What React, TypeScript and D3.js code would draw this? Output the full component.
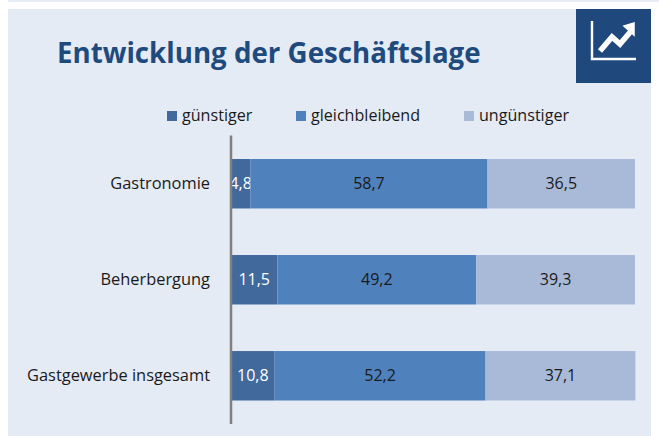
import React from "react";
import * as d3 from "d3";

const categories = ["Gastronomie", "Beherbergung", "Gastgewerbe insgesamt"];
const seriesNames = ["günstiger", "gleichbleibend", "ungünstiger"];
const guenstiger = [4.8, 11.5, 10.8];
const gleichbleibend = [58.7, 49.2, 52.2];
const unguenstiger = [36.5, 39.3, 37.1];
const colors = ["#41699c", "#4f81bd", "#a9bad9"];
const textColors = ["#ffffff", "#1a1a1a", "#1a1a1a"];
const legendSwatchX = [167, 296, 464];
const titleText = "Entwicklung der Geschäftslage";

const W = 659, H = 436;
const font = "'Open Sans', sans-serif";
const fmt = (v: number) => v.toFixed(1).replace(".", ",");

export default function App() {
  const x = d3.scaleLinear().domain([0, 100]).range([231, 635]);
  const y = d3.scaleBand().domain(categories).range([135, 424.5]).paddingInner(0.485).paddingOuter(0.25);
  const rows = categories.map((c, i) => ({ c, 0: guenstiger[i], 1: gleichbleibend[i], 2: unguenstiger[i] }));
  const stack = d3.stack<any>().keys([0, 1, 2] as any)(rows);

  return (
    <svg width={W} height={H} style={{ position: "absolute", left: 0, top: 0, background: "#fff" }}>
      <rect x={8} y={0} width={651} height={2} fill="#e6edf6" />
      <rect x={8} y={9} width={643} height={427} fill="#e4ebf5" />
      <text x={57} y={63} fontFamily={font} fontWeight={700} fontSize={27.7} fill="#1f4a7d">{titleText}</text>

      <rect x={576} y={9} width={75} height={74} fill="#1f497d" />
      <path d="M592,21 V59 H636" fill="none" stroke="#fff" strokeWidth={2.4} />
      <path d="M600,51 L612,37 L620,44 L632,30" fill="none" stroke="#fff" strokeWidth={5.5} />
      <path d="M624,26 L634,23 L634,35 Z" fill="#fff" stroke="#fff" strokeWidth={1.5} />

      {seriesNames.map((s, i) => (
        <g key={s}>
          <rect x={legendSwatchX[i]} y={111} width={10} height={10} fill={colors[i]} />
          <text x={legendSwatchX[i] + 15} y={120.5} fontFamily={font} fontSize={16.1} fill="#1a1a1a">{s}</text>
        </g>
      ))}

      {stack.map((layer, si) => (
        <g key={si}>
          {layer.map((d, i) => (
            <g key={i}>
              <rect x={x(d[0])} y={y(categories[i])!} width={x(d[1]) - x(d[0])} height={y.bandwidth()} fill={colors[si]} />
              <text x={(x(d[0]) + x(d[1])) / 2} y={y(categories[i])! + y.bandwidth() / 2 + 5.5} textAnchor="middle"
                fontFamily={font} fontSize={16} fill={textColors[si]}>{fmt(d[1] - d[0])}</text>
            </g>
          ))}
        </g>
      ))}

      {categories.map((c) => (
        <text key={c} x={210} y={y(c)! + y.bandwidth() / 2 + 5} textAnchor="end" fontFamily={font} fontSize={16.4} fill="#1a1a1a">{c}</text>
      ))}
      <line x1={231} x2={231} y1={135.5} y2={424} stroke="#808080" strokeWidth={2.5} />
    </svg>
  );
}
